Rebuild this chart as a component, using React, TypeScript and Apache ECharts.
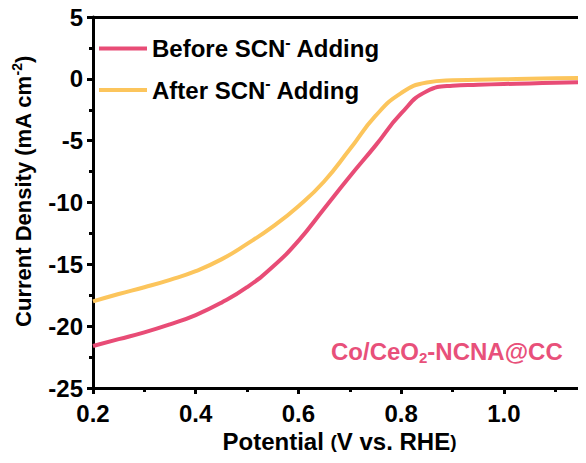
import React, { useEffect, useRef } from "react";
import * as echarts from "echarts";

const potential = [0.2, 0.25, 0.3, 0.35, 0.4, 0.45, 0.5, 0.55, 0.6, 0.65, 0.7, 0.75, 0.8, 0.85, 0.9, 0.95, 1.0, 1.05, 1.1, 1.16];
const beforeSCN = [-21.6, -21.05, -20.5, -19.85, -19.1, -18.1, -16.85, -15.2, -13.1, -10.5, -7.9, -5.4, -2.8, -1.0, -0.55, -0.48, -0.42, -0.37, -0.32, -0.25];
const afterSCN = [-18.0, -17.4, -16.85, -16.25, -15.55, -14.6, -13.35, -11.95, -10.3, -8.3, -5.7, -3.0, -1.15, -0.3, -0.12, -0.08, -0.04, 0.0, 0.04, 0.08];
const seriesNames = ["Before SCN⁻ Adding", "After SCN⁻ Adding"];
const seriesColors = ["#E84C76", "#FCC55C"];

const FONT = "'Liberation Sans', Arial, sans-serif";

export default function App() {
  const ref = useRef<HTMLDivElement>(null);
  useEffect(() => {
    if (!ref.current) return;
    const chart = echarts.init(ref.current, undefined, { renderer: "svg" });
    const supStyle = { fontSize: 16, fontWeight: "bold", fontFamily: FONT, color: "#000", padding: [0, 0, 13, 0] };
    const xAxisBase = {
      type: "value",
      min: 0.2,
      max: 1.16,
      interval: 0.2,
    };
    chart.setOption({
      animation: false,
      backgroundColor: "#fff",
      textStyle: { fontFamily: FONT },
      grid: { left: 85, right: 8, top: 9, bottom: 83, containLabel: false, outerBoundsMode: "none" },
      legend: {
        orient: "vertical",
        left: 91,
        top: 26,
        padding: 0,
        itemWidth: 48,
        itemHeight: 4,
        itemGap: 14,
        icon: "rect",
        data: seriesNames,
        formatter: (n: string) => n.replace("⁻", "{sup|-}"),
        textStyle: {
          fontSize: 24,
          fontWeight: "bold",
          color: "#000",
          fontFamily: FONT,
          lineHeight: 26,
          rich: { sup: supStyle },
        },
      },
      xAxis: [
        {
          ...xAxisBase,
          position: "bottom",
          name: "Potential {p|(}V vs. RHE{p|)}",
          nameLocation: "middle",
          nameGap: 34,
          nameTextStyle: {
            fontSize: 24,
            fontWeight: "bold",
            color: "#000",
            fontFamily: FONT,
            rich: { p: { fontSize: 19, fontWeight: "bold", color: "#000", fontFamily: FONT } },
          },
          axisLine: { show: true, onZero: false, lineStyle: { color: "#000", width: 3 } },
          axisTick: { show: true, length: 6, lineStyle: { color: "#000", width: 3 } },
          minorTick: { show: true, splitNumber: 2, length: 4, lineStyle: { color: "#000", width: 3 } },
          axisLabel: {
            margin: 13,
            fontSize: 24,
            fontWeight: "bold",
            color: "#000",
            fontFamily: FONT,
            showMaxLabel: false,
            formatter: (v: number) => v.toFixed(1),
          },
          splitLine: { show: false },
        },
        {
          ...xAxisBase,
          position: "top",
          axisLine: { show: true, onZero: false, lineStyle: { color: "#000", width: 3 } },
          axisTick: { show: false },
          axisLabel: { show: false },
          splitLine: { show: false },
        },
      ],
      yAxis: {
        type: "value",
        min: -25,
        max: 5,
        interval: 5,
        name: "{gap|}Current Density (mA cm{sup|-2})",
        nameLocation: "middle",
        nameGap: 57,
        nameTextStyle: {
          fontSize: 22,
          fontWeight: "bold",
          color: "#000",
          fontFamily: FONT,
          rich: {
            sup: { ...supStyle, fontSize: 14, padding: [0, 0, 12, 0] },
            gap: { width: 22, fontSize: 22 },
          },
        },
        axisLine: { show: true, onZero: false, lineStyle: { color: "#000", width: 3 } },
        axisTick: { show: true, length: 6, lineStyle: { color: "#000", width: 3 } },
        minorTick: { show: true, splitNumber: 2, length: 4, lineStyle: { color: "#000", width: 3 } },
        axisLabel: {
          margin: 10,
          fontSize: 24,
          fontWeight: "bold",
          color: "#000",
          fontFamily: FONT,
        },
        splitLine: { show: false },
      },
      series: [
        {
          name: seriesNames[0],
          type: "line",
          data: potential.map((x, i) => [x, beforeSCN[i]]),
          smooth: 0.5,
          showSymbol: false,
          lineStyle: { color: seriesColors[0], width: 4 },
          itemStyle: { color: seriesColors[0] },
          z: 3,
        },
        {
          name: seriesNames[1],
          type: "line",
          data: potential.map((x, i) => [x, afterSCN[i]]),
          smooth: 0.5,
          showSymbol: false,
          lineStyle: { color: seriesColors[1], width: 4 },
          itemStyle: { color: seriesColors[1] },
          z: 2,
        },
      ],
      graphic: [
        {
          type: "text",
          left: 323,
          top: 331,
          style: {
            text: "Co/CeO{sub|2}-NCNA@CC",
            fill: "#E8507A",
            font: `bold 24px ${FONT}`,
            rich: {
              sub: { fontSize: 15, fontWeight: "bold", fill: "#E8507A", fontFamily: FONT, padding: [12, 0, 0, 0] },
            },
          },
        },
      ],
    });
    return () => chart.dispose();
  }, []);
  return <div ref={ref} style={{ width: 586, height: 463 }} />;
}
